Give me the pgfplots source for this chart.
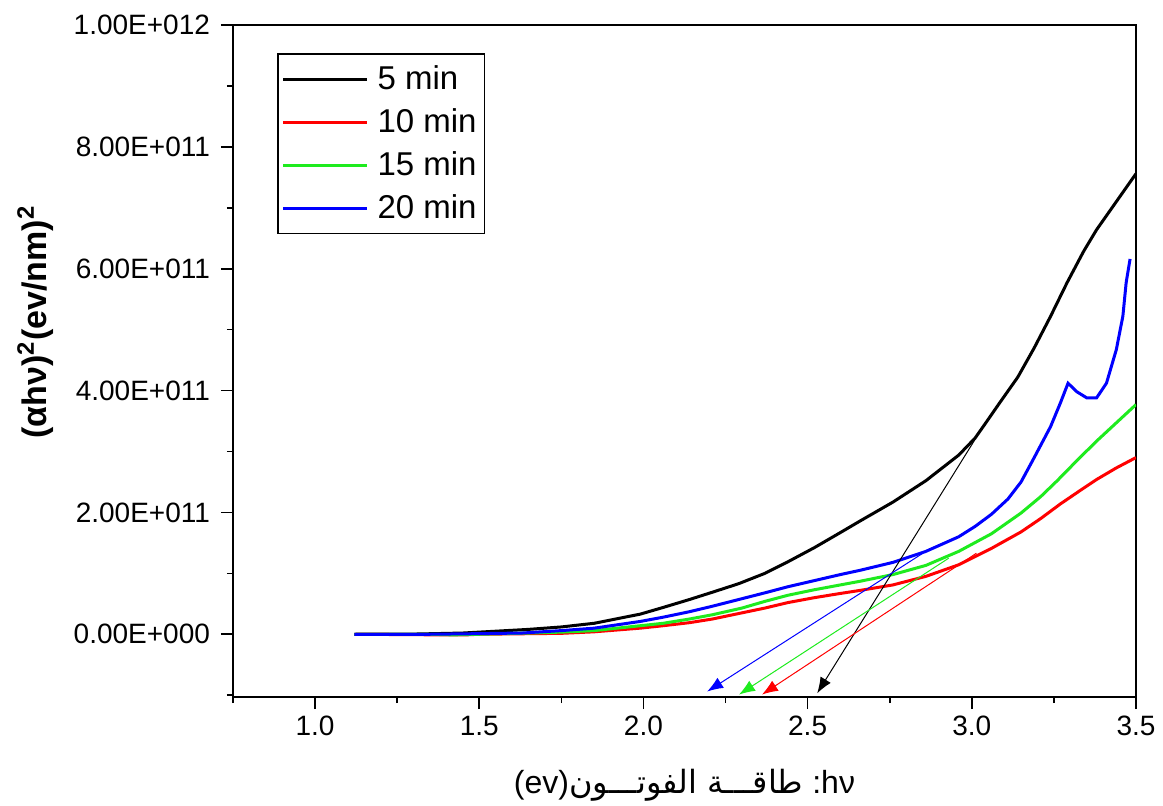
\documentclass[border=0pt]{standalone}
\usepackage{fontspec}
\setmainfont{Liberation Sans}
\newfontfamily\arabicfont[Script=Arabic]{DejaVu Sans}
\TeXXeTstate=1
\usepackage{pgfplots}
\pgfplotsset{compat=1.18}
\usetikzlibrary{arrows.meta}
\definecolor{cgreen}{RGB}{30,235,30}
\definecolor{cred}{RGB}{255,0,0}
\definecolor{cblue}{RGB}{0,0,255}
\begin{document}
\begin{tikzpicture}
\path[use as bounding box] (-116.5pt,-54pt) rectangle (465pt,348.5pt);
\begin{axis}[
  scale only axis,
  width=451.5pt, height=336pt,
  xmin=0.75, xmax=3.5,
  ymin=-1.03e11, ymax=1e12,
  scaled y ticks=false,
  scaled x ticks=false,
  axis line style={line width=1pt},
  tick pos=left,
  tick align=outside,
  major tick length=6pt,
  minor tick length=3pt,
  every tick/.style={black, line width=0.8pt},
  xtick={1,1.5,2,2.5,3,3.5},
  xticklabels={1.0,1.5,2.0,2.5,3.0,3.5},
  minor xtick={0.75,1.25,1.75,2.25,2.75,3.25},
  ytick={0,2e11,4e11,6e11,8e11,1e12},
  yticklabels={0.00E+000,2.00E+011,4.00E+011,6.00E+011,8.00E+011,1.00E+012},
  minor ytick={-1e11,1e11,3e11,5e11,7e11,9e11},
  /pgf/number format/assume math mode=true,
  ticklabel style={font=\fontsize{14}{16}\selectfont},
  yticklabel style={xshift=-2pt},
  xlabel={\fontsize{16}{18}\selectfont (ev){\arabicfont\beginR طاقـــة الفوتـــون\endR} :hν},
  xlabel style={at={(axis description cs:0.5,0)}, anchor=center, yshift=-44pt},
  ylabel={\fontsize{17}{19}\selectfont\bfseries (αhν)\textsuperscript{2}(ev/nm)\textsuperscript{2}},
  ylabel style={at={(axis description cs:-0.219,0.558)}, anchor=center},
  legend style={at={(axis description cs:0.0487,0.958)}, anchor=north west,
    draw=black, line width=0.8pt, font=\fontsize{16.5}{18}\selectfont,
    inner xsep=2pt, inner ysep=4pt, row sep=4pt, cells={anchor=west}},
  legend image code/.code={\draw[#1, line width=1.3pt] (0pt,0pt) -- (42pt,0pt); \path (44.5pt,0pt);},
  legend cell align=left,
]
\addplot[black, line width=1.5pt] coordinates {
(1.12,0) (1.30,0.003e11) (1.45,0.02e11) (1.55,0.05e11) (1.65,0.08e11) (1.75,0.12e11)
(1.85,0.18e11) (1.99,0.33e11) (2.06,0.44e11) (2.14,0.57e11) (2.21,0.69e11) (2.29,0.83e11)
(2.37,1.0e11) (2.44,1.19e11) (2.52,1.42e11) (2.60,1.67e11) (2.66,1.86e11) (2.76,2.17e11)
(2.86,2.52e11) (2.96,2.94e11) (3.01,3.22e11) (3.04,3.45e11) (3.085,3.8e11) (3.14,4.22e11)
(3.19,4.7e11) (3.24,5.22e11) (3.29,5.77e11) (3.34,6.28e11) (3.38,6.64e11) (3.44,7.1e11) (3.5,7.56e11)};
\addlegendentry{5 min}
\addplot[cred, line width=1.5pt] coordinates {
(1.12,0) (1.38,-0.01e11) (1.46,-0.01e11) (1.5,0) (1.75,0.015e11) (1.85,0.04e11)
(1.99,0.10e11) (2.06,0.14e11) (2.14,0.19e11) (2.21,0.25e11) (2.29,0.34e11) (2.37,0.43e11)
(2.44,0.52e11) (2.52,0.60e11) (2.60,0.67e11) (2.66,0.72e11) (2.76,0.81e11) (2.86,0.95e11)
(2.96,1.14e11) (3.06,1.41e11) (3.15,1.68e11) (3.21,1.9e11) (3.27,2.14e11) (3.33,2.36e11)
(3.38,2.54e11) (3.44,2.73e11) (3.5,2.9e11)};
\addlegendentry{10 min}
\addplot[cgreen, line width=1.5pt] coordinates {
(1.12,0) (1.35,0) (1.42,-0.01e11) (1.5,0) (1.65,0.02e11) (1.75,0.035e11) (1.85,0.06e11)
(1.99,0.14e11) (2.06,0.18e11) (2.14,0.25e11) (2.21,0.32e11) (2.30,0.43e11) (2.37,0.54e11)
(2.44,0.64e11) (2.52,0.73e11) (2.60,0.81e11) (2.66,0.87e11) (2.76,0.98e11) (2.86,1.13e11)
(2.96,1.36e11) (3.06,1.65e11) (3.15,1.99e11) (3.21,2.26e11) (3.26,2.52e11) (3.32,2.85e11)
(3.38,3.17e11) (3.44,3.47e11) (3.5,3.77e11)};
\addlegendentry{15 min}
\addplot[cblue, line width=1.5pt] coordinates {
(1.12,0) (1.35,0) (1.5,0.01e11) (1.63,0.02e11) (1.75,0.06e11) (1.85,0.10e11) (1.99,0.21e11)
(2.06,0.28e11) (2.14,0.37e11) (2.21,0.46e11) (2.29,0.57e11) (2.37,0.68e11) (2.44,0.78e11)
(2.52,0.88e11) (2.60,0.98e11) (2.66,1.05e11) (2.76,1.18e11) (2.86,1.36e11) (2.96,1.6e11)
(3.01,1.77e11) (3.06,1.97e11) (3.11,2.22e11) (3.15,2.5e11) (3.19,2.9e11) (3.24,3.41e11)
(3.27,3.8e11) (3.293,4.12e11) (3.32,3.98e11) (3.35,3.88e11) (3.38,3.88e11) (3.41,4.12e11)
(3.44,4.67e11) (3.46,5.22e11) (3.47,5.77e11) (3.482,6.16e11)};
\addlegendentry{20 min}
% tangent lines (arrows)
\addplot[black, line width=0.5pt, -{Latex[length=8pt,width=6pt]}, forget plot] coordinates {(3.009,3.19e11) (2.529,-0.97e11)};
\addplot[cred, line width=0.5pt, -{Latex[length=8pt,width=6pt]}, forget plot] coordinates {(3.014,1.33e11) (2.361,-0.99e11)};
\addplot[cgreen, line width=0.5pt, -{Latex[length=8pt,width=6pt]}, forget plot] coordinates {(2.93,1.25e11) (2.291,-0.99e11)};
\addplot[cblue, line width=0.5pt, -{Latex[length=8pt,width=6pt]}, forget plot] coordinates {(2.851,1.33e11) (2.194,-0.94e11)};
\end{axis}
\end{tikzpicture}
\end{document}
